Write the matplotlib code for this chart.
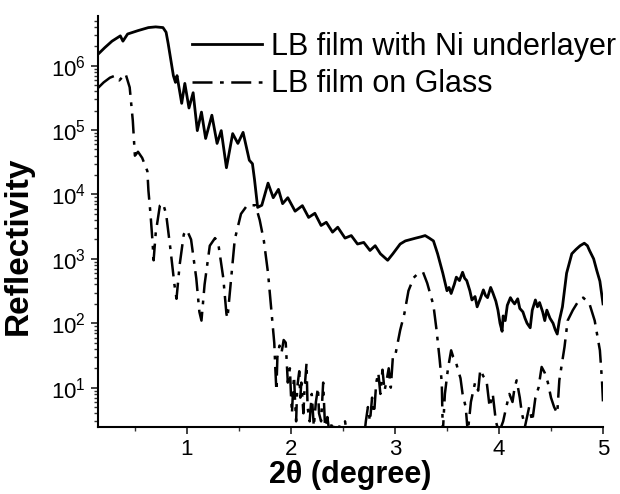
import matplotlib
matplotlib.use('Agg')
import matplotlib.pyplot as plt
from matplotlib.ticker import LogLocator, MultipleLocator, NullFormatter

# LB film with Ni underlayer (solid)
ni_x = [0.145, 0.21, 0.28, 0.33, 0.36, 0.385, 0.43, 0.48, 0.53, 0.58, 0.63, 0.70, 0.77, 0.80,
        0.82, 0.84, 0.87, 0.89, 0.905, 0.93, 0.95, 0.98, 1.02, 1.06, 1.10, 1.14, 1.18, 1.24,
        1.29, 1.33, 1.38, 1.44, 1.49, 1.54, 1.60, 1.63, 1.65, 1.68, 1.72, 1.78, 1.83, 1.88,
        1.92, 1.97, 2.04, 2.11, 2.17, 2.23, 2.29, 2.34, 2.40, 2.45, 2.52, 2.58, 2.64, 2.70,
        2.76, 2.81, 2.86, 2.93, 2.98, 3.05, 3.10, 3.15, 3.20, 3.25, 3.29, 3.33, 3.37, 3.41,
        3.46, 3.50, 3.52, 3.54, 3.57, 3.59, 3.62, 3.65, 3.67, 3.69, 3.72, 3.74, 3.77, 3.79,
        3.82, 3.85, 3.87, 3.89, 3.92, 3.94, 3.97, 3.99, 4.01, 4.03, 4.04, 4.06, 4.08, 4.11,
        4.13, 4.15, 4.18, 4.20, 4.23, 4.25, 4.27, 4.30, 4.32, 4.35, 4.37, 4.39, 4.42, 4.44,
        4.46, 4.49, 4.52, 4.54, 4.56, 4.58, 4.61, 4.65, 4.70, 4.74, 4.78, 4.82, 4.85, 4.87,
        4.91, 4.94, 4.97, 5.00]
ni_y = [1.5e6, 1.9e6, 2.4e6, 2.7e6, 2.9e6, 2.4e6, 3.1e6, 3.3e6, 3.5e6, 3.7e6, 3.9e6, 4.0e6,
        3.9e6, 3.3e6, 2.2e6, 1.4e6, 7.0e5, 5.5e5, 7.0e5, 4.0e5, 2.6e5, 5.3e5, 2.2e5, 3.8e5,
        9.8e4, 1.9e5, 7.4e4, 1.7e5, 6.2e4, 9.8e4, 2.6e4, 8.8e4, 6.2e4, 9.2e4, 3.4e4, 3.0e4,
        1.7e4, 6.3e3, 6.8e3, 1.5e4, 8.9e3, 1.2e4, 7.2e3, 8.9e3, 5.5e3, 6.7e3, 4.4e3, 5.1e3,
        3.3e3, 3.7e3, 2.6e3, 3.1e3, 2.1e3, 2.3e3, 1.7e3, 1.8e3, 1.35e3, 1.6e3, 1.2e3, 9.5e2,
        1.2e3, 1.7e3, 1.9e3, 2.0e3, 2.1e3, 2.2e3, 2.3e3, 2.1e3, 1.9e3, 1.2e3, 6.0e2, 3.2e2,
        3.6e2, 2.9e2, 4.0e2, 5.2e2, 4.6e2, 6.2e2, 5.0e2, 4.6e2, 3.2e2, 2.3e2, 2.6e2, 1.8e2,
        2.4e2, 3.3e2, 2.7e2, 2.5e2, 3.6e2, 3.0e2, 2.2e2, 1.6e2, 1.0e2, 75, 1.3e2, 1.1e2,
        1.9e2, 2.5e2, 2.2e2, 2.0e2, 2.4e2, 1.7e2, 1.5e2, 1.2e2, 1.0e2, 85, 1.6e2, 2.3e2,
        1.8e2, 2.1e2, 1.5e2, 1.1e2, 1.6e2, 1.2e2, 1.0e2, 80, 68, 1.1e2, 1.8e2, 6.0e2, 1.2e3,
        1.4e3, 1.6e3, 1.75e3, 1.6e3, 1.35e3, 1.0e3, 6.6e2, 4.5e2, 2.0e2]

# LB film on Glass (dash-dot)
gl_x = [0.145, 0.20, 0.26, 0.31, 0.35, 0.41, 0.45, 0.48, 0.50, 0.53,
        0.57, 0.62, 0.63, 0.65, 0.67, 0.68, 0.70, 0.74, 0.77, 0.80,
        0.84, 0.88, 0.90, 0.93, 0.97, 1.00, 1.04, 1.09, 1.12, 1.14,
        1.17, 1.22, 1.27, 1.30, 1.35, 1.38, 1.39, 1.42, 1.46, 1.52,
        1.58, 1.66, 1.70, 1.74, 1.78, 1.82,
        1.84, 1.85, 1.86, 1.87, 1.89, 1.91, 1.93, 1.95, 1.96, 1.97,
        1.99, 2.00, 2.01, 2.02, 2.03, 2.04, 2.05, 2.06, 2.08, 2.09,
        2.10, 2.12, 2.13, 2.15, 2.16, 2.18, 2.20, 2.22, 2.24, 2.26,
        2.27, 2.29, 2.31, 2.33, 2.35, 2.37, 2.40, 2.42, 2.47, 2.50,
        2.52, 2.55, 2.70, 2.72, 2.74, 2.76, 2.78, 2.80, 2.82, 2.84,
        2.86, 2.88, 2.90, 2.92, 2.94, 2.96, 2.98, 3.00, 3.05, 3.09,
        3.13, 3.18, 3.22, 3.27, 3.31, 3.37, 3.40, 3.43, 3.45, 3.46,
        3.48, 3.51, 3.54, 3.56, 3.58, 3.61, 3.63, 3.65, 3.68, 3.70,
        3.73, 3.77, 3.80, 3.82, 3.85, 3.88, 3.91, 3.94, 3.97, 4.00,
        4.04, 4.07, 4.10, 4.13, 4.15, 4.17, 4.20, 4.22, 4.25, 4.29,
        4.32, 4.35, 4.38, 4.41, 4.44, 4.47, 4.50, 4.53, 4.56, 4.58,
        4.63, 4.66, 4.71, 4.77, 4.81, 4.87, 4.92, 4.97, 4.99, 5.00]
gl_y = [4.5e5, 5.5e5, 6.5e5, 7.0e5, 5.9e5, 7.5e5, 4.6e5, 1.4e5, 4.0e4, 4.6e4,
        3.7e4, 2.3e4, 1.15e4, 5.0e3, 1.8e3, 9.5e2, 2.5e3, 6.7e3, 7.3e3, 5.0e3,
        1.5e3, 4.0e2, 2.4e2, 8.0e2, 2.4e3, 2.8e3, 2.0e3, 5.0e2, 1.5e2, 1.1e2,
        4.0e2, 1.6e3, 2.1e3, 1.8e3, 5.0e2, 1.4e2, 1.2e2, 4.0e2, 2.0e3, 5.0e3,
        6.8e3, 6.8e3, 4.0e3, 1.9e3, 6.0e2, 1.1e2,
        49, 20, 9, 30, 45, 35, 55, 50, 25, 12,
        20, 8, 4, 9, 15, 6, 3, 10, 18, 7,
        12, 4, 9, 24, 5, 3, 8, 2.5, 6, 10,
        4, 3, 12, 2, 3.5, 2, 3, 1.5, 2.6, 1.5,
        3, 1.5, 1.5, 3, 5, 3, 7, 4, 12, 17,
        8, 19, 9, 13, 20, 10, 30, 30, 78, 1.4e2,
        3.2e2, 5.1e2, 5.9e2, 6.2e2, 4.2e2, 1.9e2, 78, 27, 12, 2,
        8, 20, 38, 30, 27, 18, 14, 8, 5, 2,
        6, 12, 9, 19, 15, 13, 5, 8, 3, 2,
        3, 5, 8, 6, 10, 13, 7, 4, 2.5, 5,
        3, 7, 10, 21, 17, 12, 7, 5, 4, 13,
        43, 1.1e2, 1.6e2, 2.3e2, 2.5e2, 2.0e2, 1.1e2, 38, 13, 5.9]

plt.rcParams['font.family'] = ['Liberation Sans', 'DejaVu Sans']

fig = plt.figure(figsize=(6.2, 4.94), dpi=100)
ax = fig.add_axes([0.158, 0.1356, 0.8146, 0.832])

ax.plot(ni_x, ni_y, color='black', lw=2.0, label='LB film with Ni underlayer')
ax.plot(gl_x, gl_y, color='black', lw=1.8, linestyle=(0, (8, 3, 1.5, 3)),
        label='LB film on Glass')

ax.set_yscale('log')
ax.set_xlim(0.145, 5.0)
ax.set_ylim(2.45, 5.9e6)

ax.xaxis.set_major_locator(MultipleLocator(1))
ax.xaxis.set_minor_locator(MultipleLocator(0.5))
ax.yaxis.set_major_locator(LogLocator(base=10, numticks=20))
ax.yaxis.set_minor_locator(LogLocator(base=10, subs=range(2, 10), numticks=20))
ax.yaxis.set_minor_formatter(NullFormatter())

ax.spines['top'].set_visible(False)
ax.spines['right'].set_visible(False)
ax.spines['left'].set_linewidth(1.5)
ax.spines['bottom'].set_linewidth(1.5)
ax.tick_params(which='major', direction='out', length=5, width=1.3, labelsize=16, colors='#333333')
ax.tick_params(which='minor', direction='out', length=3, width=1.0, colors='#333333')
ax.tick_params(labelcolor='black')

ax.set_xlabel('2θ (degree)', fontsize=22, fontweight='bold', labelpad=0)
ax.set_ylabel('Reflectivity', fontsize=24, fontweight='bold')
ax.yaxis.set_label_coords(-0.128, 0.44)

leg = ax.legend(loc='upper left', bbox_to_anchor=(192 / 620, 1 - 32 / 494),
                bbox_transform=fig.transFigure, frameon=False, fontsize=22,
                handlelength=2.3, handletextpad=0.3, labelspacing=0.24,
                borderpad=0, borderaxespad=0)

fig.savefig('out.png', dpi=100)
